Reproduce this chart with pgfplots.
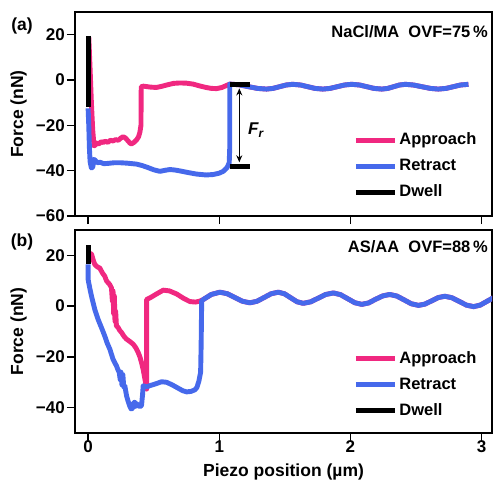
\documentclass[border=0pt]{standalone}
\usepackage{fontspec}
\setmainfont{Liberation Sans}
\usepackage{pgfplots}
\pgfplotsset{compat=1.18}
\usetikzlibrary{arrows.meta}
\definecolor{appr}{RGB}{240,40,128}
\definecolor{retr}{RGB}{70,105,235}
\pgfplotsset{
  panel/.style={
    scale only axis, width=417pt,
    xmin=-0.1, xmax=3.08,
    axis line style={line width=1.3pt},
    tick style={black, line width=1.3pt},
    tick align=outside, major tick length=8pt,
    xtick pos=bottom, ytick pos=left,
    xtick={0,1,2,3},
    ticklabel style={font=\fontsize{17}{20}\selectfont\bfseries},
    yticklabel style={inner xsep=2pt},
    every axis y label/.style={at={(rel axis cs:-0.1355,0.5)}, rotate=90, anchor=center, font=\fontsize{17.5}{20}\selectfont\bfseries},
    legend style={draw=none, fill=none, inner sep=0pt, font=\fontsize{16.5}{19}\selectfont\bfseries, nodes={inner sep=2pt, text height=12pt, text depth=3pt}, row sep=7pt},
    legend cell align=left,
    legend image code/.code={\draw[#1, line width=5pt] (0pt,0pt) -- (39pt,0pt);},
  },
  curve/.style={line width=4.9pt, line join=round},
}
\begin{document}
\begin{tikzpicture}
% ---------------- panel (a)
\begin{axis}[panel, height=204pt, at={(75pt,267pt)}, anchor=south west,
  ymin=-60, ymax=30, ytick={-60,-40,-20,0,20}, yticklabels={−60,−40,−20,0,20},
  xticklabels={,,,}, ylabel={Force (nN)},
  legend style={at={(axis description cs:0.667,0.245)}, anchor=west}]
\addplot[appr, curve] coordinates {
(0.005,19) (0.015,5) (0.025,-10) (0.035,-22) (0.045,-29) (0.051,-28.9) (0.065,-27.8) (0.08,-28.3)
(0.1,-27.2) (0.115,-27.6) (0.13,-27) (0.15,-27.5) (0.17,-26.6) (0.19,-26.9) (0.21,-26.3) (0.23,-26.6)
(0.25,-25.6) (0.267,-25) (0.285,-25.6) (0.305,-26.9) (0.32,-27.9) (0.331,-28.2) (0.35,-27.5) (0.37,-26.4)
(0.385,-25) (0.395,-23) (0.403,-20) (0.405,-3) (0.42,-2.7) (0.47,-3.1) (0.52,-3.3) (0.56,-2.8) (0.60,-2.2)
(0.65,-1.5) (0.70,-1.3) (0.75,-1.4) (0.80,-1.8) (0.85,-2.6) (0.90,-3.3) (0.94,-3.7) (0.98,-3.8) (1.02,-3.3) (1.06,-2.3) (1.08,-1.8)
(1.15,-2.1) (1.22,-2.9) (1.29,-3.7) (1.36,-4.0) (1.41,-3.7) (1.46,-2.95) (1.51,-2.2) (1.56,-1.9)
(1.62,-2.2) (1.675,-2.95) (1.73,-3.7) (1.79,-4.0) (1.845,-3.7) (1.90,-2.95) (1.955,-2.2) (2.01,-1.9)
(2.07,-2.2) (2.125,-2.95) (2.18,-3.7) (2.24,-4.0) (2.285,-3.7) (2.33,-2.95) (2.375,-2.2) (2.42,-1.9)
(2.48,-2.2) (2.545,-2.95) (2.61,-3.7) (2.67,-4.0) (2.73,-3.7) (2.785,-2.95) (2.84,-2.2) (2.90,-1.9)
};
\addlegendentry{Approach}
\addplot[retr, curve] coordinates {
(0.0,-12.5) (0.005,-20) (0.01,-30) (0.015,-36) (0.025,-38.8) (0.035,-38.5) (0.045,-35) (0.055,-35.5)
(0.07,-36.5) (0.09,-36.3) (0.12,-36.9) (0.15,-36.8) (0.2,-36.5) (0.242,-36.5) (0.30,-36.7) (0.369,-37.1)
(0.41,-37.7) (0.446,-38.4) (0.50,-39.6) (0.547,-40.3) (0.59,-39.8) (0.624,-39.5) (0.66,-39.7) (0.70,-40.1) (0.76,-40.8)
(0.827,-41.5) (0.90,-41.9) (0.954,-41.7) (1.00,-41.1) (1.03,-40.3) (1.06,-38.6) (1.076,-36.5) (1.08,-30) (1.08,-1.8)
(1.15,-2.1) (1.22,-2.9) (1.29,-3.7) (1.36,-4.0) (1.41,-3.7) (1.46,-2.95) (1.51,-2.2) (1.56,-1.9)
(1.62,-2.2) (1.675,-2.95) (1.73,-3.7) (1.79,-4.0) (1.845,-3.7) (1.90,-2.95) (1.955,-2.2) (2.01,-1.9)
(2.07,-2.2) (2.125,-2.95) (2.18,-3.7) (2.24,-4.0) (2.285,-3.7) (2.33,-2.95) (2.375,-2.2) (2.42,-1.9)
(2.48,-2.2) (2.545,-2.95) (2.61,-3.7) (2.67,-4.0) (2.73,-3.7) (2.785,-2.95) (2.84,-2.2) (2.90,-1.9)
};
\addlegendentry{Retract}
\addplot[black, line width=4.8pt] coordinates {(0,19.5) (0,-12)};
\addlegendentry{Dwell}
\draw[line width=4.6pt] (1.08,-1.9) -- (1.235,-1.9);
\draw[line width=4.6pt] (1.08,-38.1) -- (1.235,-38.1);
\draw[{Stealth[length=7pt,width=6pt]}-{Stealth[length=7pt,width=6pt]}, line width=1.5pt] (1.153,-3.7) -- (1.153,-36.3);
\node[font=\fontsize{17}{20}\selectfont\bfseries\itshape] at (1.28,-22) {F\textsubscript{r}};
\end{axis}
% ---------------- panel (b)
\begin{axis}[panel, height=203pt, at={(75pt,50pt)}, anchor=south west,
  ymin=-50, ymax=30, ytick={-40,-20,0,20}, yticklabels={−40,−20,0,20},
  xticklabels={0,1,2,3}, xticklabel shift=-4pt, ylabel={Force (nN)},
  xlabel={Piezo position (µm)},
  every axis x label/.style={at={(rel axis cs:0.5,-0.2167)}, anchor=base, font=\fontsize{17.5}{20}\selectfont\bfseries},
  legend style={at={(axis description cs:0.667,0.2365)}, anchor=west}]
\addplot[appr, curve] coordinates {
(0.005,21) (0.026,20.5) (0.04,18) (0.051,16.4) (0.07,15.5) (0.089,15) (0.11,13) (0.127,11.8) (0.14,10)
(0.153,9.2) (0.165,8.5) (0.178,7.2) (0.185,2) (0.19,6) (0.195,-3) (0.20,4) (0.205,-6) (0.21,-2) (0.216,-7.8)
(0.23,-8.5) (0.24,-9.5) (0.255,-10.4) (0.275,-12) (0.293,-13) (0.32,-14) (0.344,-15) (0.365,-16.5)
(0.382,-18.3) (0.395,-20) (0.407,-22.2) (0.42,-25) (0.433,-28.7) (0.446,-32.7) (0.446,2.6) (0.48,3.5)
(0.522,4.8) (0.573,6.3) (0.62,6.0) (0.675,4.8) (0.73,3) (0.776,1.8) (0.82,1.6) (0.853,2.0) (0.878,2.6)
(0.94,4.6) (1.005,5.5) (1.062,4.88) (1.12,3.4) (1.177,1.92) (1.234,1.3) (1.288,1.92) (1.342,3.4) (1.396,4.88) (1.45,5.5)
(1.4975,4.86) (1.545,3.3) (1.5925,1.74) (1.64,1.1) (1.6975,1.70) (1.755,3.15) (1.8125,4.6) (1.87,5.2)
(1.924,4.54) (1.979,2.95) (2.033,1.36) (2.087,0.7) (2.14,1.27) (2.19,2.65) (2.247,4.03) (2.30,4.6)
(2.355,3.97) (2.41,2.45) (2.465,0.93) (2.52,0.3) (2.57,0.83) (2.62,2.1) (2.67,3.37) (2.72,3.9)
(2.775,3.3) (2.83,1.85) (2.885,0.4) (2.94,-0.2) (2.99,0.4) (3.04,1.85) (3.09,3.3) (3.14,3.9)
};
\addlegendentry{Approach}
\addplot[retr, curve] coordinates {
(0.0,16.5) (0.0,10.5) (0.013,7) (0.026,3.9) (0.04,1) (0.051,-1.3) (0.065,-3.5) (0.076,-5.2) (0.09,-7)
(0.102,-8.5) (0.115,-10.2) (0.127,-11.8) (0.145,-14.5) (0.166,-17) (0.18,-19.3) (0.19,-20.9) (0.205,-22.5)
(0.216,-23.5) (0.227,-25) (0.237,-26.1) (0.245,-29) (0.25,-26) (0.258,-31) (0.265,-27) (0.272,-32)
(0.28,-31.4) (0.293,-35.3) (0.305,-37.5) (0.318,-39.5) (0.328,-40.5) (0.339,-40.3) (0.348,-38) (0.356,-37.9)
(0.365,-39.5) (0.375,-38.5) (0.382,-39.2) (0.395,-39.6) (0.407,-39.2) (0.415,-35) (0.42,-31.4) (0.446,-31.8)
(0.48,-31.2) (0.522,-30.5) (0.56,-29.8) (0.598,-30) (0.64,-31) (0.675,-32) (0.72,-33.3) (0.751,-33.8)
(0.785,-33.6) (0.814,-33) (0.83,-32) (0.845,-29.5) (0.858,-26) (0.862,-15) (0.866,2.0) (0.878,2.6)
(0.94,4.6) (1.005,5.5) (1.062,4.88) (1.12,3.4) (1.177,1.92) (1.234,1.3) (1.288,1.92) (1.342,3.4) (1.396,4.88) (1.45,5.5)
(1.4975,4.86) (1.545,3.3) (1.5925,1.74) (1.64,1.1) (1.6975,1.70) (1.755,3.15) (1.8125,4.6) (1.87,5.2)
(1.924,4.54) (1.979,2.95) (2.033,1.36) (2.087,0.7) (2.14,1.27) (2.19,2.65) (2.247,4.03) (2.30,4.6)
(2.355,3.97) (2.41,2.45) (2.465,0.93) (2.52,0.3) (2.57,0.83) (2.62,2.1) (2.67,3.37) (2.72,3.9)
(2.775,3.3) (2.83,1.85) (2.885,0.4) (2.94,-0.2) (2.99,0.4) (3.04,1.85) (3.09,3.3) (3.14,3.9)
};
\addlegendentry{Retract}
\addplot[black, line width=4.8pt] coordinates {(0,24) (0,16.5)};
\addlegendentry{Dwell}
\end{axis}
% ---------------- texts
\node[font=\fontsize{17.5}{20}\selectfont\bfseries] at (22pt,457pt) {(a)};
\node[font=\fontsize{17.5}{20}\selectfont\bfseries] at (22pt,241pt) {(b)};
\node[font=\fontsize{16.5}{19}\selectfont\bfseries, anchor=east, inner sep=0pt] at (488pt,451.5pt) {NaCl/MA\ \ OVF=75\,\%};
\node[font=\fontsize{16.5}{19}\selectfont\bfseries, anchor=east, inner sep=0pt] at (488pt,236pt) {AS/AA\ \ OVF=88\,\%};
\pgfresetboundingbox
\path[use as bounding box] (0pt,0pt) rectangle (493pt,483pt);
\end{tikzpicture}
\end{document}
